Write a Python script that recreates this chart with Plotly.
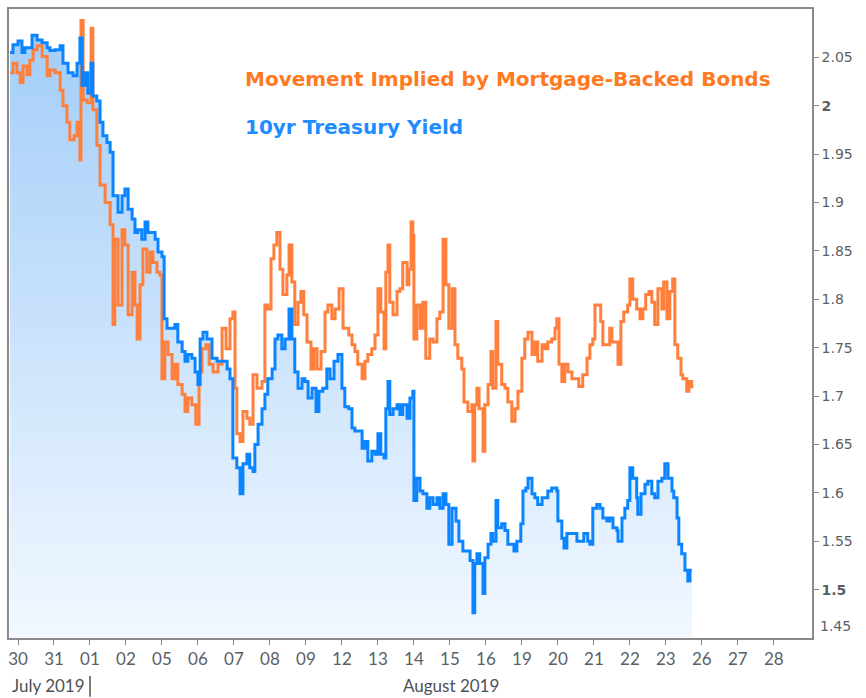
import plotly.graph_objects as go

# x positions are in trading-day index units (0 = Jun 30 tick, 1 = Jul 31, ...)
day_labels = ["30", "31", "01", "02", "05", "06", "07", "08", "09", "12", "13",
              "14", "15", "16", "19", "20", "21", "22", "23", "26", "27", "28"]
day_positions = list(range(len(day_labels)))

tsy_x = [-0.22, -0.14, 0.00, 0.11, 0.19, 0.39, 0.53, 0.67, 0.81, 0.89, 1.03, 1.17, 1.25, 1.39,
         1.53, 1.64, 1.72, 1.78, 1.86, 1.94, 2.03, 2.08, 2.19, 2.28, 2.36, 2.47, 2.56, 2.64,
         2.78, 2.89, 2.97, 3.06, 3.17, 3.25, 3.33, 3.44, 3.53, 3.61, 3.72, 3.81, 3.89, 4.00,
         4.06, 4.14, 4.22, 4.36, 4.44, 4.56, 4.64, 4.72, 4.83, 4.92, 5.00, 5.06, 5.14, 5.25,
         5.39, 5.53, 5.67, 5.81, 5.89, 5.97, 6.08, 6.17, 6.25, 6.36, 6.44, 6.53, 6.58, 6.67,
         6.78, 6.86, 6.94, 7.06, 7.14, 7.22, 7.33, 7.42, 7.53, 7.61, 7.69, 7.78, 7.89, 7.97,
         8.06, 8.17, 8.28, 8.36, 8.47, 8.58, 8.67, 8.78, 8.89, 9.00, 9.08, 9.19, 9.28, 9.36,
         9.44, 9.56, 9.64, 9.72, 9.83, 9.92, 10.00, 10.08, 10.17, 10.22, 10.28, 10.33, 10.42,
         10.53, 10.61, 10.69, 10.81, 10.89, 10.97, 11.00, 11.08, 11.17, 11.25, 11.36, 11.44,
         11.53, 11.64, 11.72, 11.81, 11.89, 11.97, 12.06, 12.17, 12.25, 12.36, 12.47, 12.56,
         12.64, 12.69, 12.75, 12.83, 12.92, 12.97, 13.06, 13.14, 13.19, 13.28, 13.33, 13.44,
         13.53, 13.61, 13.72, 13.78, 13.86, 13.97, 14.03, 14.11, 14.17, 14.28, 14.36, 14.44,
         14.56, 14.64, 14.72, 14.83, 14.97, 15.00, 15.11, 15.17, 15.25, 15.39, 15.53, 15.61,
         15.72, 15.83, 15.89, 15.97, 16.08, 16.17, 16.25, 16.36, 16.44, 16.53, 16.64, 16.67,
         16.78, 16.86, 16.94, 17.00, 17.08, 17.19, 17.22, 17.31, 17.42, 17.50, 17.61, 17.69,
         17.78, 17.89, 17.97, 18.06, 18.17, 18.22, 18.31, 18.36, 18.44, 18.53, 18.61, 18.67,
         18.72]
tsy_y = [2.055, 2.063, 2.067, 2.055, 2.060, 2.073, 2.068, 2.065, 2.060, 2.057, 2.058, 2.062,
         2.044, 2.034, 2.031, 2.044, 2.070, 2.021, 2.034, 2.013, 2.044, 2.010, 2.005, 1.983,
         1.969, 1.962, 1.952, 1.907, 1.890, 1.907, 1.914, 1.893, 1.883, 1.869, 1.872, 1.862,
         1.880, 1.869, 1.869, 1.862, 1.849, 1.844, 1.780, 1.770, 1.770, 1.774, 1.756, 1.746,
         1.736, 1.743, 1.739, 1.725, 1.712, 1.759, 1.766, 1.759, 1.739, 1.736, 1.736, 1.728,
         1.718, 1.636, 1.626, 1.599, 1.630, 1.640, 1.626, 1.622, 1.650, 1.671, 1.687, 1.702,
         1.718, 1.728, 1.759, 1.763, 1.749, 1.759, 1.790, 1.759, 1.725, 1.708, 1.718, 1.715,
         1.698, 1.708, 1.684, 1.705, 1.708, 1.728, 1.718, 1.736, 1.743, 1.708, 1.689, 1.687,
         1.667, 1.664, 1.664, 1.646, 1.653, 1.633, 1.643, 1.640, 1.661, 1.640, 1.636, 1.687,
         1.715, 1.681, 1.687, 1.691, 1.681, 1.691, 1.677, 1.698, 1.705, 1.592, 1.615, 1.602,
         1.599, 1.584, 1.595, 1.588, 1.595, 1.584, 1.599, 1.588, 1.547, 1.584, 1.571, 1.550,
         1.540, 1.540, 1.530, 1.476, 1.527, 1.537, 1.527, 1.496, 1.533, 1.547, 1.558, 1.550,
         1.592, 1.564, 1.568, 1.561, 1.547, 1.547, 1.540, 1.550, 1.568, 1.602, 1.605, 1.615,
         1.599, 1.595, 1.588, 1.595, 1.595, 1.602, 1.605, 1.602, 1.571, 1.553, 1.543, 1.558,
         1.558, 1.550, 1.550, 1.558, 1.550, 1.547, 1.584, 1.588, 1.584, 1.574, 1.571, 1.574,
         1.564, 1.561, 1.550, 1.574, 1.584, 1.592, 1.626, 1.615, 1.595, 1.578, 1.599, 1.609,
         1.612, 1.599, 1.595, 1.612, 1.615, 1.630, 1.615, 1.602, 1.595, 1.574, 1.547, 1.537,
         1.520, 1.509, 1.520, 1.520]

mbs_x = [-0.22, -0.14, -0.03, 0.06, 0.14, 0.25, 0.33, 0.42, 0.53, 0.67, 0.81, 0.89, 1.03,
         1.17, 1.25, 1.36, 1.44, 1.56, 1.64, 1.72, 1.75, 1.81, 1.92, 2.03, 2.08, 2.19, 2.28,
         2.42, 2.56, 2.64, 2.69, 2.78, 2.89, 2.97, 3.06, 3.17, 3.25, 3.31, 3.39, 3.47, 3.58,
         3.67, 3.75, 3.86, 3.94, 4.00, 4.08, 4.17, 4.28, 4.36, 4.44, 4.56, 4.64, 4.72, 4.83,
         4.94, 5.03, 5.11, 5.22, 5.31, 5.42, 5.56, 5.67, 5.78, 5.89, 5.97, 6.03, 6.08, 6.17,
         6.25, 6.36, 6.44, 6.53, 6.64, 6.78, 6.86, 6.94, 7.03, 7.11, 7.19, 7.28, 7.36, 7.47,
         7.53, 7.61, 7.69, 7.78, 7.86, 7.94, 8.03, 8.14, 8.22, 8.31, 8.42, 8.53, 8.61, 8.72,
         8.81, 8.92, 9.03, 9.14, 9.19, 9.28, 9.36, 9.44, 9.56, 9.64, 9.72, 9.83, 9.92, 10.00,
         10.08, 10.17, 10.22, 10.28, 10.33, 10.42, 10.53, 10.61, 10.69, 10.81, 10.86, 10.92,
         10.97, 11.00, 11.08, 11.17, 11.25, 11.33, 11.44, 11.53, 11.64, 11.72, 11.81, 11.89,
         11.97, 12.06, 12.14, 12.22, 12.33, 12.39, 12.50, 12.61, 12.64, 12.69, 12.75, 12.81,
         12.92, 12.97, 13.06, 13.14, 13.19, 13.28, 13.33, 13.44, 13.53, 13.61, 13.72, 13.81,
         13.89, 14.00, 14.08, 14.17, 14.28, 14.36, 14.44, 14.56, 14.64, 14.72, 14.83, 14.92,
         14.97, 15.03, 15.11, 15.19, 15.28, 15.39, 15.47, 15.58, 15.69, 15.81, 15.89, 15.97,
         16.03, 16.11, 16.19, 16.25, 16.36, 16.44, 16.50, 16.61, 16.67, 16.75, 16.83, 16.94,
         17.00, 17.08, 17.19, 17.28, 17.36, 17.44, 17.53, 17.61, 17.69, 17.78, 17.89, 17.94,
         18.03, 18.11, 18.19, 18.25, 18.33, 18.42, 18.47, 18.58, 18.64, 18.72]
mbs_y = [2.034, 2.044, 2.034, 2.024, 2.041, 2.032, 2.047, 2.058, 2.062, 2.051, 2.031, 2.037,
         2.034, 2.016, 2.000, 1.983, 1.965, 1.969, 1.983, 1.944, 2.088, 2.006, 2.003, 2.080,
         1.996, 1.959, 1.918, 1.900, 1.877, 1.774, 1.862, 1.794, 1.872, 1.856, 1.784, 1.828,
         1.794, 1.759, 1.815, 1.852, 1.828, 1.849, 1.838, 1.828, 1.825, 1.718, 1.756, 1.743,
         1.718, 1.733, 1.712, 1.702, 1.684, 1.698, 1.691, 1.671, 1.725, 1.749, 1.753, 1.733,
         1.725, 1.733, 1.770, 1.749, 1.780, 1.787, 1.708, 1.661, 1.653, 1.684, 1.677, 1.671,
         1.722, 1.708, 1.715, 1.794, 1.790, 1.842, 1.856, 1.869, 1.831, 1.805, 1.825, 1.856,
         1.818, 1.774, 1.797, 1.808, 1.784, 1.756, 1.728, 1.749, 1.728, 1.746, 1.787, 1.794,
         1.780, 1.790, 1.811, 1.770, 1.770, 1.763, 1.753, 1.746, 1.733, 1.718, 1.736, 1.743,
         1.749, 1.763, 1.811, 1.787, 1.749, 1.828, 1.856, 1.797, 1.784, 1.808, 1.811, 1.838,
         1.815, 1.831, 1.880, 1.866, 1.759, 1.794, 1.770, 1.797, 1.739, 1.759, 1.756, 1.780,
         1.787, 1.862, 1.815, 1.770, 1.811, 1.753, 1.739, 1.728, 1.694, 1.684, 1.691, 1.633,
         1.691, 1.708, 1.687, 1.643, 1.691, 1.712, 1.746, 1.708, 1.777, 1.733, 1.712, 1.708,
         1.694, 1.674, 1.687, 1.705, 1.739, 1.759, 1.766, 1.743, 1.756, 1.736, 1.753, 1.749,
         1.756, 1.759, 1.770, 1.780, 1.733, 1.715, 1.733, 1.725, 1.718, 1.718, 1.710, 1.722,
         1.739, 1.753, 1.759, 1.794, 1.794, 1.777, 1.753, 1.753, 1.770, 1.756, 1.756, 1.733,
         1.777, 1.787, 1.794, 1.821, 1.800, 1.790, 1.780, 1.790, 1.805, 1.808, 1.797, 1.774,
         1.811, 1.790, 1.818, 1.780, 1.808, 1.821, 1.753, 1.739, 1.722, 1.718, 1.705, 1.715,
         1.708]

y_ticks = [1.5, 1.55, 1.6, 1.65, 1.7, 1.75, 1.8, 1.85, 1.9, 1.95, 2.0, 2.05]
y_tick_text = ["<b>1.5</b>", "1.55", "1.6", "1.65", "1.7", "1.75", "1.8", "1.85",
               "1.9", "1.95", "<b>2</b>", "2.05"]

ORANGE = "#ff7f3d"
BLUE = "#0a84ff"
X_FONT = "Lato, Open Sans, sans-serif"

fig = go.Figure()

# gradient area beneath the Treasury line
fig.add_trace(go.Scatter(
    x=tsy_x, y=tsy_y, mode="lines", line=dict(width=0, color=BLUE, shape="hv"),
    fill="tozeroy",
    fillgradient=dict(type="vertical", start=1.45, stop=2.07,
                      colorscale=[[0, "rgb(242,248,255)"], [1, "rgb(164,206,248)"]]),
    showlegend=False, hoverinfo="skip"))

fig.add_trace(go.Scatter(
    x=mbs_x, y=mbs_y, mode="lines", line=dict(color=ORANGE, width=3, shape="hv"),
    name="Movement Implied by Mortgage-Backed Bonds", showlegend=False))

fig.add_trace(go.Scatter(
    x=tsy_x, y=tsy_y, mode="lines", line=dict(color=BLUE, width=3, shape="hv"),
    name="10yr Treasury Yield", showlegend=False))

AXIS_GRAY = "#8a8a8a"
LABEL_GRAY = "#5a5f66"

fig.update_layout(
    width=866, height=698,
    margin=dict(l=9, r=54, t=7, b=60),
    paper_bgcolor="white", plot_bgcolor="white",
    xaxis=dict(
        range=[-0.25, 22.06], tickmode="array", tickvals=day_positions, ticktext=day_labels,
        showgrid=False, zeroline=False, showline=True, mirror=True,
        linecolor=AXIS_GRAY, linewidth=1.5,
        ticks="outside", ticklen=5, tickcolor=AXIS_GRAY, tickwidth=1,
        tickfont=dict(family=X_FONT, size=17, color=LABEL_GRAY),
    ),
    yaxis=dict(
        range=[1.45, 2.1], side="right", tickmode="array", tickvals=y_ticks,
        ticktext=y_tick_text,
        showgrid=False, zeroline=False, showline=True, mirror=True,
        linecolor=AXIS_GRAY, linewidth=1.5,
        ticks="outside", ticklen=5, tickcolor=AXIS_GRAY, tickwidth=1,
        tickfont=dict(family="DejaVu Sans, Verdana, sans-serif", size=14, color=LABEL_GRAY),
    ),
    annotations=[
        dict(text="Movement Implied by Mortgage-Backed Bonds", xref="paper", yref="paper",
             x=(243 - 9) / 803, y=(638 - 77) / 631, xanchor="left", yanchor="middle",
             showarrow=False,
             font=dict(family="DejaVu Sans, Verdana, sans-serif", size=20, color="#ff7a1f",
                       weight="bold")),
        dict(text="10yr Treasury Yield", xref="paper", yref="paper",
             x=(243 - 9) / 803, y=(638 - 125) / 631, xanchor="left", yanchor="middle",
             showarrow=False,
             font=dict(family="DejaVu Sans, Verdana, sans-serif", size=20, color="#1e8cff",
                       weight="bold")),
        dict(text="1.45", xref="paper", yref="paper", x=1, xshift=6, y=(638 - 626) / 631,
             xanchor="left", yanchor="middle", showarrow=False,
             font=dict(family="DejaVu Sans, Verdana, sans-serif", size=14, color=LABEL_GRAY)),
        dict(text="July 2019", xref="paper", yref="paper", x=0, xshift=1,
             y=(638 - 686) / 631, xanchor="left", yanchor="middle", showarrow=False,
             font=dict(family=X_FONT, size=17, color="#4d5157")),
        dict(text="August 2019", xref="x", yref="paper", x=12.03,
             y=(638 - 686) / 631, xanchor="center", yanchor="middle", showarrow=False,
             font=dict(family=X_FONT, size=17, color="#4d5157")),
    ],
    shapes=[
        dict(type="line", xref="x", yref="paper", x0=2.0, x1=2.0,
             y0=(638 - 676) / 631, y1=(638 - 697) / 631,
             line=dict(color="#555555", width=1.5)),
    ],
)

fig.write_html("out.html",
               config={"displayModeBar": False},
               post_script="document.body.style.margin='0';"
                           "document.body.style.overflow='hidden';")
